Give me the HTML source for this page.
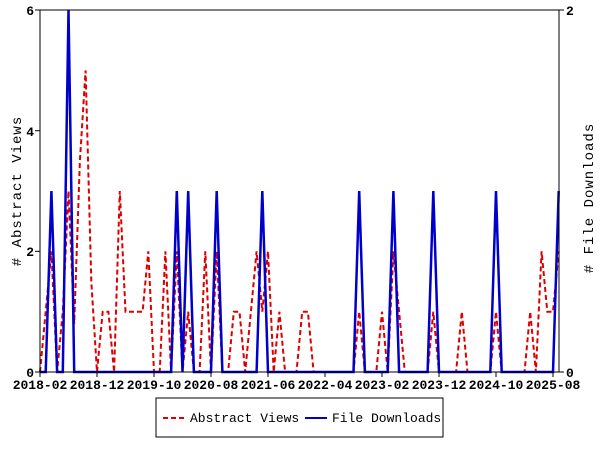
<!DOCTYPE html>
<html><head><meta charset="utf-8"><style>body{margin:0;background:#fff}svg{display:block}text{font-family:"Liberation Mono",monospace;font-size:13px;font-weight:bold;fill:#000}.t{font-size:14px;font-weight:normal;letter-spacing:1px}.l{font-weight:normal}</style></head>
<body>
<svg width="600" height="450" xmlns="http://www.w3.org/2000/svg">
<rect x="0" y="0" width="600" height="450" fill="#fff"/>
<g id="plot"></g>
<rect x="40" y="10" width="519" height="362" fill="none" stroke="#000" stroke-width="1"/>
<g stroke="#000">
<line x1="35" y1="10" x2="40" y2="10"/><line x1="35" y1="130.7" x2="40" y2="130.7"/><line x1="35" y1="251.3" x2="40" y2="251.3"/><line x1="35" y1="372" x2="40" y2="372"/>
<line x1="559" y1="10" x2="564" y2="10"/><line x1="559" y1="372" x2="564" y2="372"/>
</g>
<g text-anchor="end">
<text x="34" y="15">6</text><text x="34" y="136">4</text><text x="34" y="256">2</text><text x="34" y="377">0</text>
</g>
<text x="566" y="15">2</text><text x="566" y="377">0</text>
<g id="xt" text-anchor="middle"></g>
<text class="t" transform="translate(21,191) rotate(-90)" text-anchor="middle"># Abstract Views</text>
<text class="t" transform="translate(593,198) rotate(-90)" text-anchor="middle"># File Downloads</text>
<rect x="156" y="398" width="287" height="39" fill="#fff" stroke="#000"/>
<line x1="163" y1="418" x2="185" y2="418" stroke="#d00" stroke-width="2" stroke-dasharray="5,3"/>
<text class="l" x="190" y="422">Abstract Views</text>
<line x1="305" y1="418" x2="327" y2="418" stroke="#00c" stroke-width="2"/>
<text class="l" x="332" y="422">File Downloads</text>
<script>
var red=[0,1,2,0,1,3,0.8,3.5,5,1.5,0,1,1,0,3,1,1,1,1,2,0,0,2,0,2,0,1,0,0,2,0,2,0,0,1,1,0,1,2,1,2,0,1,0,0,0,1,1,0,0,0,0,0,0,0,0,1,0,0,0,1,0,2,1,0,0,0,0,0,1,0,0,0,0,1,0,0,0,0,0,1,0,0,0,0,0,1,0,2,1,1,2];
var blue=[];for(var i=0;i<92;i++)blue.push(0);
[2,24,26,31,39,56,62,69,80,91].forEach(function(m){blue[m]=1});blue[5]=2;
function X(m){return 40+5.7*m}
var pr=red.map(function(v,m){return X(m).toFixed(1)+","+(372-60.33*v).toFixed(1)}).join(" ");
var pb=blue.map(function(v,m){return X(m).toFixed(1)+","+(372-181*v).toFixed(1)}).join(" ");
var ns="http://www.w3.org/2000/svg",g=document.getElementById("plot");
var a=document.createElementNS(ns,"polyline");a.setAttribute("points",pr);a.setAttribute("fill","none");a.setAttribute("stroke","#d00");a.setAttribute("stroke-width","2");a.setAttribute("stroke-dasharray","5,3");g.appendChild(a);
var b=document.createElementNS(ns,"polyline");b.setAttribute("points",pb);b.setAttribute("fill","none");b.setAttribute("stroke","#00c");b.setAttribute("stroke-width","2.5");g.appendChild(b);
var lab=["2018-02","2018-12","2019-10","2020-08","2021-06","2022-04","2023-02","2023-12","2024-10","2025-08"];
var xt=document.getElementById("xt");
lab.forEach(function(l,i){var x=40+57*i;var t=document.createElementNS(ns,"line");t.setAttribute("x1",x);t.setAttribute("x2",x);t.setAttribute("y1",372);t.setAttribute("y2",377);t.setAttribute("stroke","#000");xt.appendChild(t);
var s=document.createElementNS(ns,"text");s.setAttribute("x",x);s.setAttribute("y",389);s.textContent=l;xt.appendChild(s);});
</script>
</svg>
</body></html>
